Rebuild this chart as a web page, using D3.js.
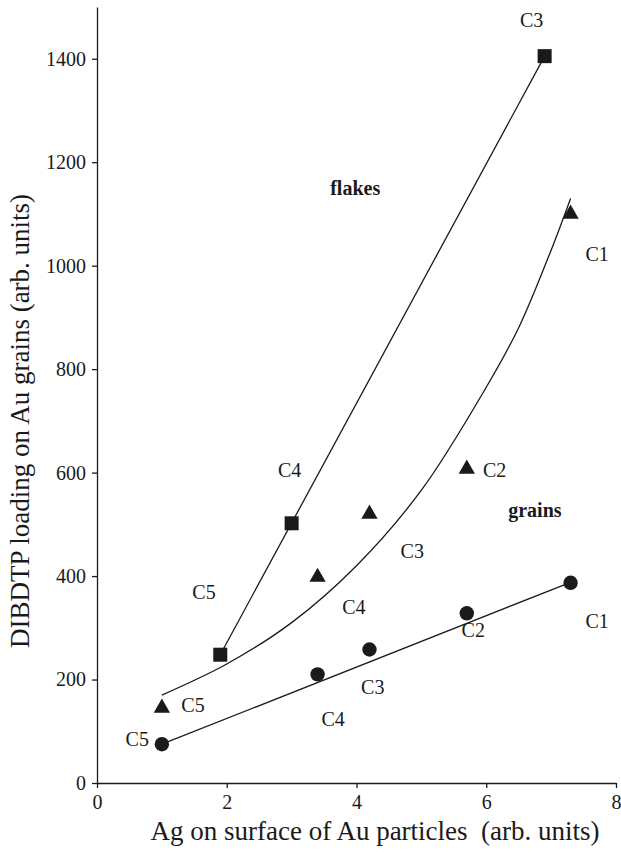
<!DOCTYPE html>
<html>
<head>
<meta charset="utf-8">
<script src="https://cdn.jsdelivr.net/npm/d3@7"></script>
<style>
  body { margin: 0; background: #fff; }
  svg { display: block; font-family: "Liberation Serif", "Times New Roman", serif; }
</style>
</head>
<body>
<svg id="chart"></svg>
<script>
// flakes (squares)
const flakeX = [1.9, 3.0, 6.9];
const flakeY = [248, 502, 1405];

// middle series (triangles)
const triX = [1.0, 3.4, 4.2, 5.7, 7.3];
const triY = [145, 398, 520, 607, 1100];

// grains (circles)
const grainX = [1.0, 3.4, 4.2, 5.7, 7.3];
const grainY = [75, 210, 258, 328, 387];

// trend curve through the triangles
const curveX = [1.0, 2.0, 3.0, 4.0, 5.0, 6.0, 6.5, 7.0, 7.3];
const curveY = [170, 230, 310, 420, 566, 765, 880, 1030, 1130];

// straight fit lines
const flakeFitX = [1.9, 6.9];
const flakeFitY = [248, 1405];
const grainFitX = [1.0, 7.3];
const grainFitY = [75, 388];

// axis ticks
const xTicks = [0, 2, 4, 6, 8];
const yTicks = [0, 200, 400, 600, 800, 1000, 1200, 1400];

// point labels
const labelText = ["C3", "C4", "C5", "C1", "C2", "C3", "C4", "C5", "C1", "C2", "C3", "C4", "C5"];
const labelX    = [6.70, 2.97, 1.65, 7.71, 6.13, 4.86, 3.96, 1.48, 7.71, 5.8, 4.25, 3.64, 0.62];
const labelY    = [1475, 605, 369, 1023, 605, 448, 340, 150, 314, 295, 186, 123, 86];
const groupText = ["flakes", "grains"];
const groupX    = [3.98, 6.75];
const groupY    = [1150, 528];

const width = 621, height = 853;
const svg = d3.select("#chart").attr("width", width).attr("height", height);

// Scales
const x = d3.scaleLinear().domain([0, 8]).range([97, 616]);
const y = d3.scaleLinear().domain([0, 1500]).range([783, 7]);

const ink = "#1a1a1a";

// Axes
const xAxis = svg.append("g")
  .attr("transform", `translate(0,${y(0)})`)
  .call(d3.axisBottom(x).tickValues(xTicks).tickFormat(d => d)
    .tickSize(5).tickSizeOuter(0).tickPadding(7));
const yAxis = svg.append("g")
  .attr("transform", `translate(${x(0)},0)`)
  .call(d3.axisLeft(y).tickValues(yTicks).tickFormat(d => d)
    .tickSize(5).tickSizeOuter(0).tickPadding(6));

[xAxis, yAxis].forEach(g => {
  g.attr("font-family", null);
  g.select(".domain").attr("stroke", ink).attr("stroke-width", 1.3);
  g.selectAll(".tick line").attr("stroke", ink).attr("stroke-width", 1.3);
  g.selectAll(".tick text")
    .attr("fill", ink)
    .style("font-family", "'Liberation Serif', serif")
    .style("font-size", "20px");
});

// Axis titles
svg.append("text")
  .attr("x", 375).attr("y", 840)
  .attr("text-anchor", "middle")
  .attr("fill", ink)
  .style("font-size", "27px")
  .attr("xml:space", "preserve")
  .text("Ag on surface of Au particles  (arb. units)");

svg.append("text")
  .attr("transform", "translate(29,421) rotate(-90)")
  .attr("text-anchor", "middle")
  .attr("fill", ink)
  .style("font-size", "27px")
  .text("DIBDTP loading on Au grains (arb. units)");

// Lines
const line = d3.line().x(d => x(d[0])).y(d => y(d[1]));
const curve = d3.line().x(d => x(d[0])).y(d => y(d[1])).curve(d3.curveCatmullRom);

svg.append("path")
  .datum(flakeFitX.map((v, i) => [v, flakeFitY[i]]))
  .attr("d", line).attr("fill", "none").attr("stroke", ink).attr("stroke-width", 1.3);
svg.append("path")
  .datum(grainFitX.map((v, i) => [v, grainFitY[i]]))
  .attr("d", line).attr("fill", "none").attr("stroke", ink).attr("stroke-width", 1.3);
svg.append("path")
  .datum(curveX.map((v, i) => [v, curveY[i]]))
  .attr("d", curve).attr("fill", "none").attr("stroke", ink).attr("stroke-width", 1.3);

// Markers
svg.selectAll("rect.flake")
  .data(flakeX.map((v, i) => [v, flakeY[i]]))
  .enter().append("rect")
  .attr("class", "flake")
  .attr("x", d => x(d[0]) - 7).attr("y", d => y(d[1]) - 7)
  .attr("width", 14).attr("height", 14)
  .attr("fill", ink);

svg.selectAll("path.tri")
  .data(triX.map((v, i) => [v, triY[i]]))
  .enter().append("path")
  .attr("class", "tri")
  .attr("d", d3.symbol(d3.symbolTriangle, 115))
  .attr("transform", d => `translate(${x(d[0])},${y(d[1])})`)
  .attr("fill", ink);

svg.selectAll("circle.grain")
  .data(grainX.map((v, i) => [v, grainY[i]]))
  .enter().append("circle")
  .attr("class", "grain")
  .attr("cx", d => x(d[0])).attr("cy", d => y(d[1]))
  .attr("r", 7.2)
  .attr("fill", ink);

// Labels
svg.selectAll("text.lab")
  .data(labelText)
  .enter().append("text")
  .attr("class", "lab")
  .attr("x", (d, i) => x(labelX[i])).attr("y", (d, i) => y(labelY[i]))
  .attr("dy", "0.35em")
  .attr("text-anchor", "middle")
  .attr("fill", ink)
  .style("font-size", "20px")
  .text(d => d);

svg.selectAll("text.grp")
  .data(groupText)
  .enter().append("text")
  .attr("class", "grp")
  .attr("x", (d, i) => x(groupX[i])).attr("y", (d, i) => y(groupY[i]))
  .attr("dy", "0.35em")
  .attr("text-anchor", "middle")
  .attr("fill", ink)
  .style("font-size", "20px")
  .style("font-weight", "bold")
  .text(d => d);
</script>
</body>
</html>
